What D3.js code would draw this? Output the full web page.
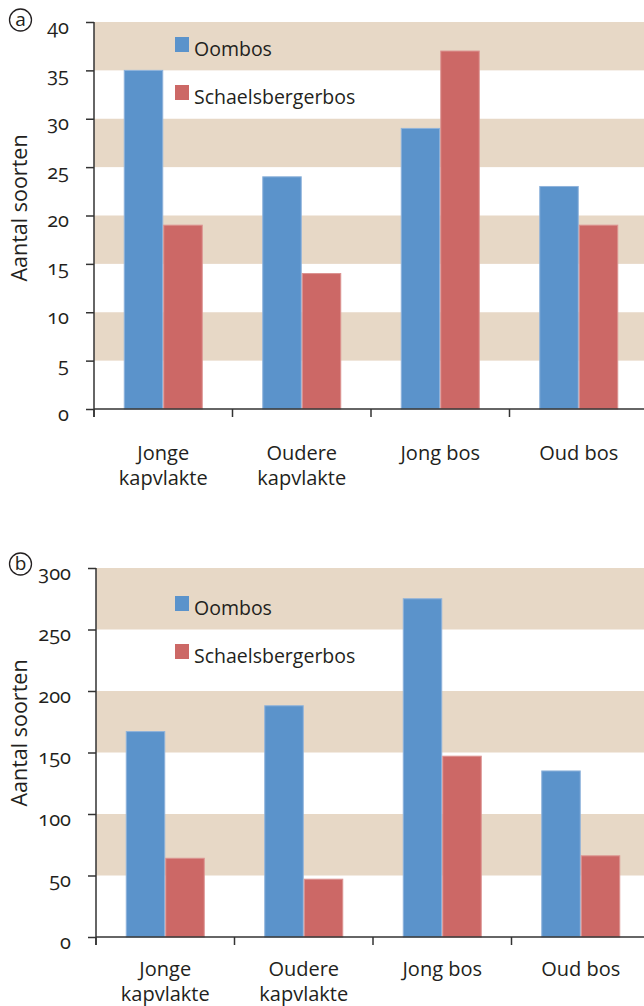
<!DOCTYPE html>
<html>
<head>
<meta charset="utf-8">
<script src="https://cdn.jsdelivr.net/npm/d3@7"></script>
<style>
  body { margin: 0; background: #fff; }
  svg text { font-family: "Open Sans", "Lato", sans-serif; fill: #231f20; font-variant-numeric: oldstyle-nums; }
</style>
</head>
<body>
<svg id="chart" width="644" height="1006"></svg>
<script>
"use strict";

const categories = [["Jonge", "kapvlakte"], ["Oudere", "kapvlakte"], ["Jong bos"], ["Oud bos"]];
const seriesNames = ["Oombos", "Schaelsbergerbos"];
const colors = ["#5b93cb", "#cc6866"];
const strokes = ["#8fb3db", "#dc9391"];

/* panel a */
const oombosA = [35, 24, 29, 23];
const schaelsA = [19, 14, 37, 19];
const ticksA = [0, 5, 10, 15, 20, 25, 30, 35, 40];

/* panel b */
const oombosB = [167, 188, 275, 135];
const schaelsB = [64, 47, 147, 66];
const ticksB = [0, 50, 100, 150, 200, 250, 300];

const svg = d3.select("#chart");

function drawPanel(opt) {
  let g = svg.append("g");
  let y = d3.scaleLinear().domain([0, opt.max]).range([opt.bottom, opt.top]);
  let x = d3.scaleBand().domain(d3.range(categories.length)).range([opt.left, opt.left + 554]);
  let xs = d3.scaleBand().domain([0, 1]).range([0, 79]);

  /* tan bands on alternate intervals, starting at the top */
  let bands = [];
  for (let i = opt.ticks.length - 1; i > 0; i -= 2) bands.push([opt.ticks[i - 1], opt.ticks[i]]);
  g.selectAll(".band").data(bands).enter().append("rect")
      .attr("x", opt.left)
      .attr("width", 644 - opt.left)
      .attr("y", d => y(d[1]))
      .attr("height", d => y(d[0]) - y(d[1]))
      .attr("fill", "#e7d8c6");

  /* bars */
  let data = [];
  categories.forEach((c, i) => {
    data.push({cat: i, s: 0, v: opt.series[0][i]});
    data.push({cat: i, s: 1, v: opt.series[1][i]});
  });
  g.selectAll(".bar").data(data).enter().append("rect")
      .attr("x", d => x(d.cat) + x.bandwidth() / 2 - 39.5 + xs(d.s) + 0.5)
      .attr("width", xs.bandwidth() - 1)
      .attr("y", d => y(d.v))
      .attr("height", d => y(0) - y(d.v))
      .attr("fill", d => colors[d.s])
      .attr("stroke", d => strokes[d.s])
      .attr("stroke-width", 1);

  /* y axis */
  let yAxis = g.append("g")
      .attr("transform", "translate(" + opt.left + ",0)")
      .call(d3.axisLeft(y).tickValues(opt.ticks).tickSize(8).tickPadding(17).tickSizeOuter(0));
  yAxis.select(".domain").attr("stroke", "#333").attr("stroke-width", 1.5)
      .attr("d", "M0," + y(opt.max) + "V" + (y(0) + 8));
  yAxis.selectAll(".tick line").attr("stroke", "#333").attr("stroke-width", 1.5);
  yAxis.selectAll(".tick text").attr("font-size", 20).attr("dy", 11);

  /* x axis */
  let xAxis = g.append("g")
      .attr("transform", "translate(0," + y(0) + ")");
  xAxis.append("line")
      .attr("x1", opt.left).attr("x2", 644)
      .attr("stroke", "#333").attr("stroke-width", 1.5);
  xAxis.selectAll(".xt").data(d3.range(categories.length)).enter().append("line")
      .attr("x1", d => x(d)).attr("x2", d => x(d))
      .attr("y1", 0).attr("y2", 8)
      .attr("stroke", "#333").attr("stroke-width", 1.5);
  let labels = xAxis.selectAll(".xl").data(categories).enter().append("text")
      .attr("text-anchor", "middle")
      .attr("font-size", 20)
      .attr("x", (d, i) => x(i) + x.bandwidth() / 2)
      .attr("y", opt.labelDy);
  labels.selectAll("tspan").data(d => d).enter().append("tspan")
      .attr("x", function() { return this.parentNode.getAttribute("x"); })
      .attr("dy", (d, i) => i === 0 ? 0 : 25)
      .text(d => d);

  /* y title */
  g.append("text")
      .attr("transform", "translate(27," + opt.titleY + ") rotate(-90)")
      .attr("text-anchor", "middle")
      .attr("font-size", 21.5)
      .text("Aantal soorten");

  /* panel letter */
  g.append("circle")
      .attr("cx", 20.5).attr("cy", opt.letterY).attr("r", 11)
      .attr("fill", "none").attr("stroke", "#231f20").attr("stroke-width", 1.3);
  g.append("text")
      .attr("x", 20.5).attr("y", opt.letterY)
      .attr("dy", "0.3em")
      .attr("text-anchor", "middle")
      .attr("font-size", 19)
      .text(opt.letter);

  /* legend */
  let leg = g.selectAll(".leg").data(seriesNames).enter().append("g")
      .attr("transform", (d, i) => "translate(175," + (opt.legendY + i * 48) + ")");
  leg.append("rect").attr("width", 14).attr("height", 15).attr("fill", (d, i) => colors[i]);
  leg.append("text").attr("x", 19).attr("y", 18.5)
      .attr("font-size", 19.5).text(d => d);
}

drawPanel({
  series: [oombosA, schaelsA], ticks: ticksA, max: 40,
  top: 22, bottom: 409, left: 94, labelDy: 51, titleY: 208,
  letter: "a", letterY: 20, legendY: 37
});

drawPanel({
  series: [oombosB, schaelsB], ticks: ticksB, max: 300,
  top: 568, bottom: 937, left: 96, labelDy: 39, titleY: 733,
  letter: "b", letterY: 564, legendY: 596
});
</script>
</body>
</html>
